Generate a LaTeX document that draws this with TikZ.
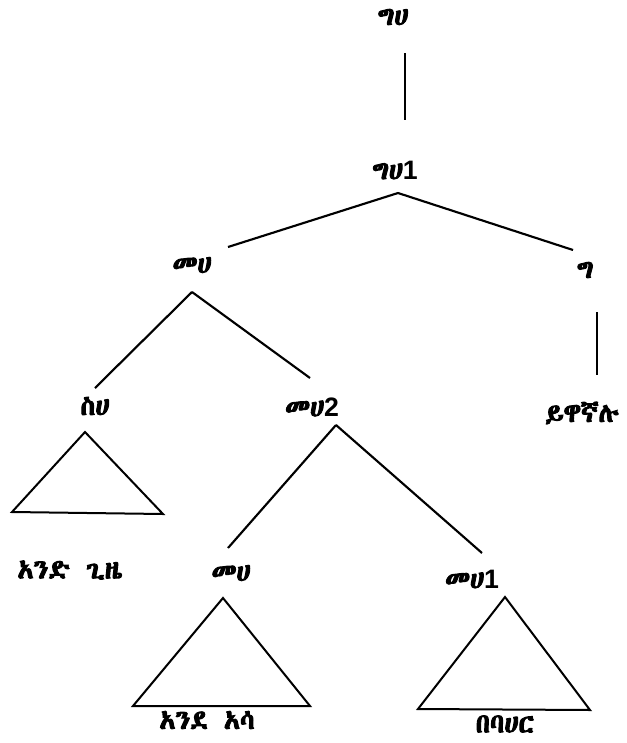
\documentclass[tikz,border=0pt]{standalone}
\usepackage{fontspec}
\setsansfont{Liberation Sans}
\newfontfamily\ethfont{Abyssinica SIL}[FakeBold=3.5]
\newcommand\idx[1]{{\sffamily\bfseries #1}}
\begin{document}
\begin{tikzpicture}[x=0.75pt,y=-0.75pt,
        cat/.style={inner sep=0pt,font=\ethfont\fontsize{20}{22}\selectfont},
        branch/.style={line width=1.6pt},
        roof/.style={line width=1.5pt,line join=miter}]
        \useasboundingbox (0,0) rectangle (626,743);

        %labels
        \node[cat] (gh) at (393,17) {ግሀ};
        \node[cat] (gh1) at (395,170) {ግሀ\idx{1}};
        \node[cat] (mh) at (192,265) {መሀ};
        \node[cat] (g) at (585,270) {ግ};
        \node[cat] (sh) at (95,406) {ስሀ};
        \node[cat] (mh2) at (312,407) {መሀ\idx{2}};
        \node[cat] (verb) at (582,413) {ይዋኛሉ};
        \node[cat] (once) at (70,570) {አንድ\hspace{0.6em}ጊዜ};
        \node[cat] (mhb) at (231,573) {መሀ};
        \node[cat] (mh1) at (472,579) {መሀ\idx{1}};
        \node[cat] (fish) at (207,720) {አንደ\hspace{0.6em}አሳ};
        \node[cat] (sea) at (505,724) {በባሀር};

        %branch ends
        \coordinate (gh-b) at (405,53);
        \coordinate (gh1-t) at (405,120);
        \coordinate (gh1-b) at (398,193);
        \coordinate (mh-t) at (228,247);
        \coordinate (g-t) at (573,250);
        \coordinate (g-b) at (597,312);
        \coordinate (verb-t) at (597,375);
        \coordinate (mh-b) at (192,292);
        \coordinate (sh-t) at (95,388);
        \coordinate (mh2-t) at (310,378);
        \coordinate (mh2-b) at (336,425);
        \coordinate (mhb-t) at (228,548);
        \coordinate (mh1-t) at (482,553);

        %lines
        \draw[branch] (gh-b) -- (gh1-t);
        \draw[branch] (gh1-b) -- (mh-t);
        \draw[branch] (gh1-b) -- (g-t);
        \draw[branch] (g-b) -- (verb-t);
        \draw[branch] (mh-b) -- (sh-t);
        \draw[branch] (mh-b) -- (mh2-t);
        \draw[branch] (mh2-b) -- (mhb-t);
        \draw[branch] (mh2-b) -- (mh1-t);

        %triangles
        \coordinate (sh-a) at (85,432);
        \coordinate (sh-l) at (12,512);
        \coordinate (sh-r) at (163,514);
        \coordinate (mhb-a) at (223,598);
        \coordinate (mhb-l) at (133,706);
        \coordinate (mhb-r) at (310,706);
        \coordinate (mh1-a) at (505,597);
        \coordinate (mh1-l) at (418,709);
        \coordinate (mh1-r) at (590,710);
        \draw[roof] (sh-a) -- (sh-l) -- (sh-r) -- cycle;
        \draw[roof] (mhb-a) -- (mhb-l) -- (mhb-r) -- cycle;
        \draw[roof] (mh1-a) -- (mh1-l) -- (mh1-r) -- cycle;
\end{tikzpicture}
\end{document}
